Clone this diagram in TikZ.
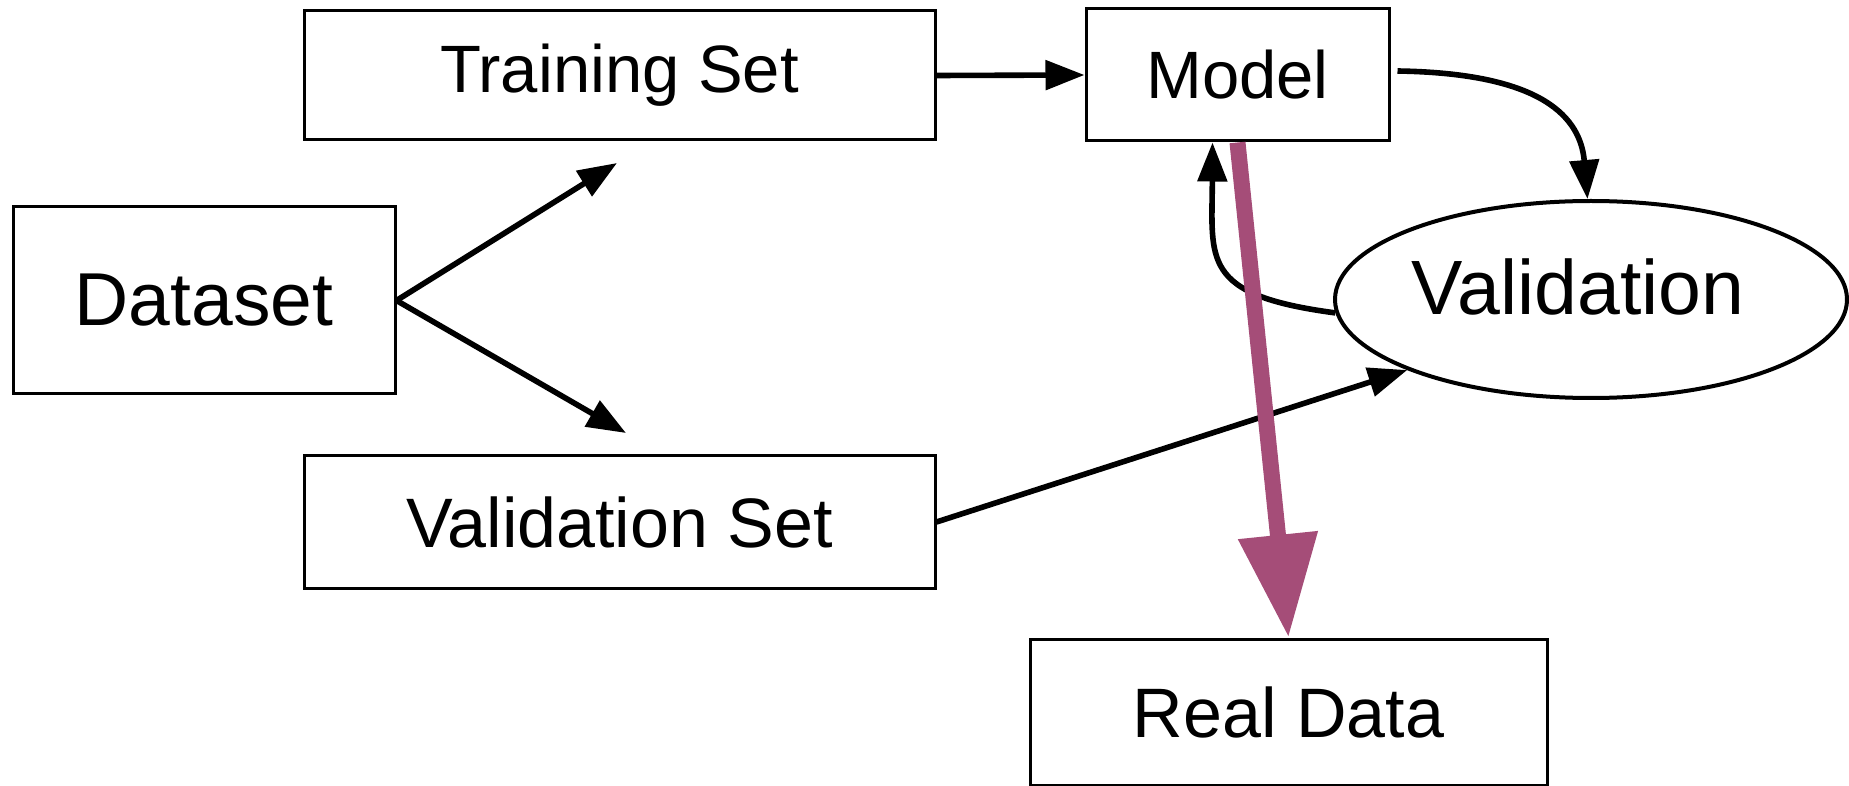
\documentclass[tikz,border=0pt]{standalone}
\usepackage{fontspec}
\setmainfont{Liberation Sans}
\usetikzlibrary{arrows.meta,shapes.geometric}
\definecolor{flowpurple}{RGB}{165,77,120}
\tikzset{
  box/.style={draw=black, line width=1.5pt, rectangle, inner sep=0pt, fill=white},
  oval/.style={draw=black, line width=2pt, ellipse, inner sep=0pt, fill=white},
  flow/.style={line width=2.8pt, -{Triangle[length=19.5pt,width=14.5pt]}},
  bigflow/.style={line width=8pt, draw=flowpurple, -{Triangle[length=51.5pt,width=38pt,fill=flowpurple]}},
}
\begin{document}
\begin{tikzpicture}[x=0.5pt, y=-0.5pt]
  \useasboundingbox (0,0) rectangle (1849,786);

  % boxes
  \node[box, minimum width=191pt, minimum height=93.5pt, font=\fontsize{37.5}{44}\selectfont] (data) at (204,300.5) {Dataset};
  \node[box, minimum width=315.5pt, minimum height=64.5pt, font=\fontsize{33.5}{40}\selectfont] (train) at (619.5,75.5) {Training Set};
  \node[box, minimum width=315.5pt, minimum height=66pt, font=\fontsize{35}{42}\selectfont] (vset) at (619.5,522) {Validation Set};
  \node[box, minimum width=151.5pt, minimum height=66pt, font=\fontsize{33.5}{40}\selectfont] (model) at (1237.5,75) {Model};
  \node[box, minimum width=258.5pt, minimum height=73pt, font=\fontsize{35}{42}\selectfont] (real) at (1288.5,712) {Real Data};
  \node[oval, minimum width=256pt, minimum height=98.5pt] (val) at (1591,299.5) {};
  \node[font=\fontsize{38.5}{46}\selectfont, inner sep=0pt] (valtext) at (1578,287) {Validation};

  % free ends of the split arrows
  \coordinate (toTrain) at (617,163);
  \coordinate (toVset) at (626,433);

  % connectors
  \draw[flow] (data.east) -- (toTrain);
  \draw[flow] (data.east) -- (toVset);
  \draw[flow] (train.east) -- (model.west);
  \draw[flow] ([xshift=3.5pt,yshift=2pt]model.east) .. controls (1530,73) and (1580,110) .. (val.92);
  \draw[flow] (val.183) .. controls (1200,295) and (1212,260) .. ([xshift=-12.5pt]model.south);
  \draw[flow] (vset.east) -- (val.201);
  \draw[bigflow] (model.south) -- (real.north);
\end{tikzpicture}
\end{document}
